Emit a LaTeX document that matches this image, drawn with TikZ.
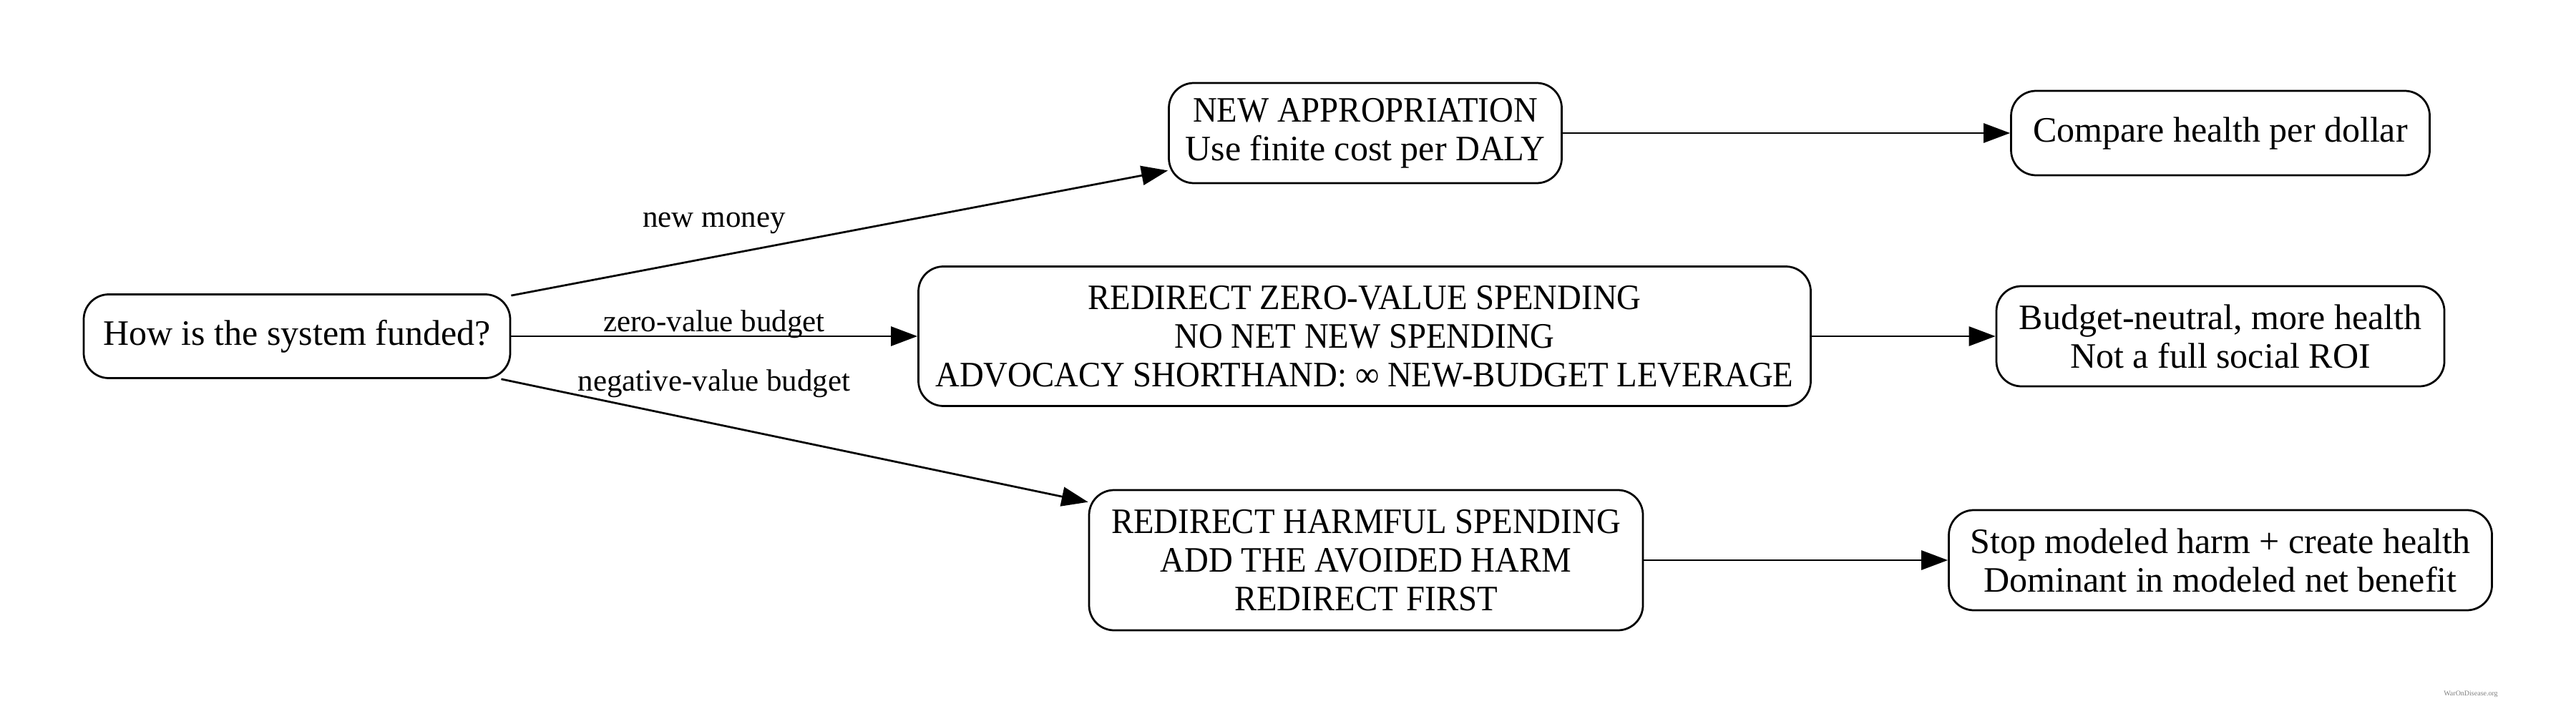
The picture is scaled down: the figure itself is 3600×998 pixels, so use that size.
\documentclass[tikz,border=0pt]{standalone}
\usepackage{fontspec}
\setmainfont{Liberation Serif}
\newfontfamily\cf[FakeStretch=0.935]{Liberation Serif}
\usetikzlibrary{arrows.meta}
\begin{document}
\begin{tikzpicture}[x=0.2pt,y=-0.2pt,
  box/.style={draw, line width=0.55pt, rounded corners=7pt, align=center,
    font=\fontsize{10}{10.8}\selectfont, inner sep=0pt},
  edge/.style={-{Triangle[length=7.4pt,width=5.4pt]}, line width=0.55pt},
  lbl/.style={font=\fontsize{8.6}{9}\selectfont, inner sep=0pt}]
\useasboundingbox (0,0) rectangle (3600,998);
\node[box, minimum width=119.2pt, minimum height=23.4pt] (start) at (415,470) {How is the system funded?};
\node[box, minimum width=109.8pt, minimum height=28pt] (newapp) at (1908,186) {{\cf NEW APPROPRIATION}\\Use finite cost per {\cf DALY}};
\node[box, minimum width=249.4pt, minimum height=39pt] (zero) at (1907,470) {{\cf REDIRECT ZERO-VALUE SPENDING}\\{\cf NO NET NEW SPENDING}\\{\cf ADVOCACY SHORTHAND: ∞ NEW-BUDGET LEVERAGE}};
\node[box, minimum width=154.8pt, minimum height=39.2pt] (harm) at (1909,783) {{\cf REDIRECT HARMFUL SPENDING}\\{\cf ADD THE AVOIDED HARM}\\{\cf REDIRECT FIRST}};
\node[box, minimum width=117pt, minimum height=23.6pt] (compare) at (3103,186) {Compare health per dollar};
\node[box, minimum width=125.2pt, minimum height=28pt] (neutral) at (3103,470) {Budget-neutral, more health\\Not a full social ROI};
\node[box, minimum width=151.8pt, minimum height=28pt] (stop) at (3103,783) {Stop modeled harm + create health\\Dominant in modeled net benefit};
\draw[edge] (start) -- (newapp);
\draw[edge] (start) -- (zero);
\draw[edge] (start) -- (harm);
\draw[edge] (newapp) -- (compare);
\draw[edge] (zero) -- (neutral);
\draw[edge] (harm) -- (stop);
\node[lbl] (l1) at (998,312) {new money};
\node[lbl] (l2) at (998,453) {zero-value budget};
\node[lbl] (l3) at (998,536) {negative-value budget};
\node[font=\fontsize{2}{2}\selectfont, text=gray, inner sep=0pt] (wm) at (3453,970) {WarOnDisease.org};
\end{tikzpicture}
\end{document}
